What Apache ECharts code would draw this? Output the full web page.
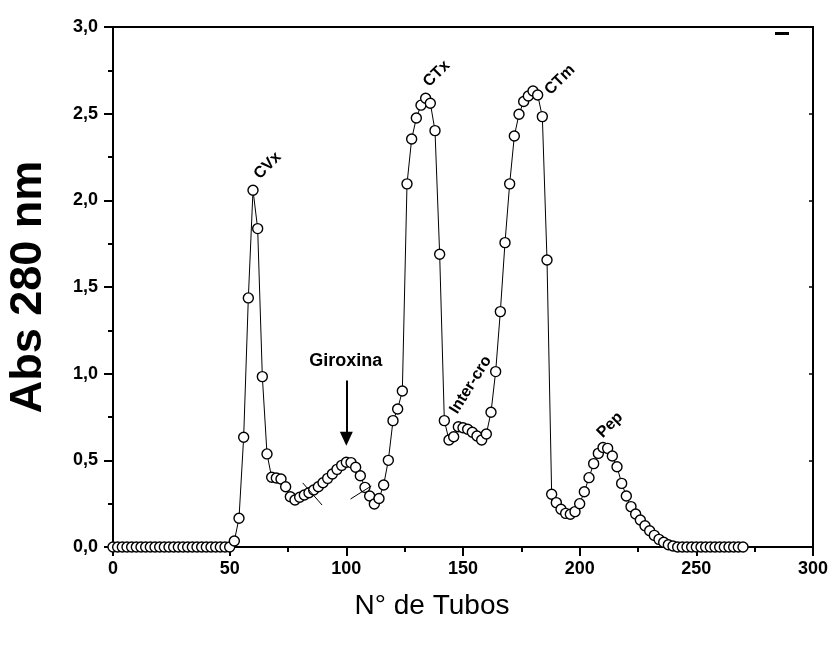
<!DOCTYPE html>
<html>
<head>
<meta charset="utf-8">
<script src="https://cdn.jsdelivr.net/npm/echarts@6/dist/echarts.min.js"></script>
<style>
  html, body { margin: 0; padding: 0; background: #fff; }
  #chart { width: 835px; height: 650px; }
</style>
</head>
<body>
<div id="chart"></div>
<script>
  // tube numbers and absorbance
  const tubes = [0, 2, 4, 6, 8, 10, 12, 14, 16, 18, 20, 22, 24, 26, 28, 30, 32, 34, 36, 38, 40, 42, 44, 46, 48, 50,
    52, 54, 56, 58, 60, 62, 64, 66, 68, 70, 72, 74, 76, 78, 80, 82, 84, 86, 88, 90, 92, 94, 96, 98, 100,
    102, 104, 106, 108, 110, 112, 114, 116, 118, 120, 122, 124, 126, 128, 130, 132, 134, 136, 138, 140,
    142, 144, 146, 148, 150, 152, 154, 156, 158, 160, 162, 164, 166, 168, 170, 172, 174, 176, 178, 180,
    182, 184, 186, 188, 190, 192, 194, 196, 198, 200, 202, 204, 206, 208, 210, 212, 214, 216, 218, 220,
    222, 224, 226, 228, 230, 232, 234, 236, 238, 240, 242, 244, 246, 248, 250, 252, 254, 256, 258, 260,
    262, 264, 266, 268, 270]
  const absorb = [0, 0, 0, 0, 0, 0, 0, 0, 0, 0, 0, 0, 0, 0, 0, 0, 0, 0, 0, 0, 0, 0, 0, 0, 0, 0,
    0.035, 0.166, 0.633, 1.437, 2.058, 1.837, 0.983, 0.537, 0.402, 0.398, 0.392, 0.348, 0.29, 0.271, 0.287,
    0.30, 0.313, 0.329, 0.348, 0.371, 0.396, 0.421, 0.448, 0.471, 0.489,
    0.487, 0.46, 0.411, 0.344, 0.294, 0.248, 0.28, 0.358, 0.50, 0.729, 0.796, 0.90, 2.095, 2.354, 2.475,
    2.549, 2.589, 2.56, 2.402, 1.689,
    0.729, 0.617, 0.636, 0.694, 0.688, 0.679, 0.662, 0.64, 0.617, 0.652, 0.777, 1.012, 1.358, 1.756, 2.095,
    2.371, 2.497, 2.57, 2.602, 2.631,
    2.608, 2.483, 1.656, 0.304, 0.256, 0.218, 0.194, 0.189, 0.204, 0.25, 0.319, 0.40, 0.481, 0.54, 0.574,
    0.569, 0.525, 0.463, 0.367, 0.294,
    0.233, 0.19, 0.156, 0.123, 0.094, 0.067, 0.044, 0.027, 0.013, 0.006, 0, 0, 0, 0, 0, 0, 0, 0, 0, 0,
    0, 0, 0, 0, 0]

  // peak labels (data coords)
  const peakText = ['CVx', 'CTx', 'CTm', 'Pep', 'Inter-cro']
  const peakX = [66.3, 138.7, 191.5, 213, 153.3]
  const peakY = [2.2, 2.73, 2.695, 0.704, 0.935]
  const peakRot = [45, 45, 45, 45, 58]

  const font = 'Arial, "Liberation Sans", sans-serif'
  const chart = echarts.init(document.getElementById('chart'))

  const points = tubes.map((t, i) => [t, absorb[i]])

  chart.setOption({
    animation: false,
    backgroundColor: '#fff',
    grid: {
      left: 113,
      right: 22,
      top: 27,
      bottom: 103,
      outerBoundsMode: 'none',
      show: true,
      borderColor: '#000',
      borderWidth: 2
    },
    xAxis: {
      type: 'value',
      min: 0,
      max: 300,
      interval: 50,
      axisLine: { show: true, lineStyle: { color: '#000', width: 2 } },
      axisTick: { show: true, length: 9, lineStyle: { color: '#000', width: 2 } },
      minorTick: { show: true, splitNumber: 2, length: 5, lineStyle: { color: '#000', width: 2 } },
      splitLine: { show: false },
      axisLabel: { fontFamily: font, fontSize: 18, fontWeight: 'bold', color: '#000', margin: 13 }
    },
    yAxis: [{
      type: 'value',
      min: 0,
      max: 3,
      interval: 0.5,
      name: 'Abs 280 nm',
      nameLocation: 'middle',
      nameGap: 62,
      nameTextStyle: { fontFamily: font, fontSize: 45, fontWeight: 'bold', color: '#000' },
      axisLine: { show: true, lineStyle: { color: '#000', width: 2 } },
      axisTick: { show: true, length: 9, lineStyle: { color: '#000', width: 2 } },
      minorTick: { show: true, splitNumber: 2, length: 5, lineStyle: { color: '#000', width: 2 } },
      splitLine: { show: false },
      axisLabel: {
        fontFamily: font, fontSize: 18, fontWeight: 'bold', color: '#000', margin: 15,
        formatter: v => v.toFixed(1).replace('.', ',')
      }
    }, {
      type: 'value',
      position: 'right',
      min: 0,
      max: 3,
      interval: 0.5,
      axisLine: { show: true, lineStyle: { color: '#000', width: 2 } },
      axisTick: { show: true, inside: true, length: 4, lineStyle: { color: '#000', width: 1.5 } },
      axisLabel: { show: false },
      splitLine: { show: false }
    }],
    series: [{
      type: 'line',
      data: points,
      symbol: 'circle',
      symbolSize: 10,
      showAllSymbol: true,
      lineStyle: { color: '#000', width: 1 },
      itemStyle: { color: '#fff', borderColor: '#000', borderWidth: 1.4 },
      markLine: {
        silent: true,
        symbol: 'none',
        label: { show: false },
        lineStyle: { color: '#000', width: 1, type: 'solid' },
        data: [
          [{ coord: [81.3, 0.37] }, { coord: [89.6, 0.242] }],
          [{ coord: [101.8, 0.277] }, { coord: [110.7, 0.352] }],
          [{ coord: [100, 0.96], symbol: 'none', lineStyle: { width: 2 } },
            { coord: [100, 0.625], symbol: 'triangle', symbolSize: [13, 14], symbolRotate: 180 }]
        ]
      }
    }]
  })

  // annotation texts placed through the axes
  const graphics = []
  peakText.forEach((t, i) => {
    const p = chart.convertToPixel({ gridIndex: 0 }, [peakX[i], peakY[i]])
    graphics.push({
      type: 'text',
      x: p[0],
      y: p[1],
      rotation: peakRot[i] * Math.PI / 180,
      style: {
        text: t,
        fontFamily: font,
        fontSize: 16,
        fontWeight: 'bold',
        fill: '#000',
        align: 'center',
        verticalAlign: 'middle'
      }
    })
  })
  const g = chart.convertToPixel({ gridIndex: 0 }, [99.8, 1.073])
  graphics.push({
    type: 'text',
    x: g[0],
    y: g[1],
    style: {
      text: 'Giroxina',
      fontFamily: font,
      fontSize: 18,
      fontWeight: 'bold',
      fill: '#000',
      align: 'center',
      verticalAlign: 'middle'
    }
  })
  // x axis title, centred as in the original
  graphics.push({
    type: 'text',
    x: 432,
    y: 606,
    style: {
      text: 'N° de Tubos',
      fontFamily: font,
      fontSize: 28,
      fill: '#000',
      align: 'center',
      verticalAlign: 'middle'
    }
  })
  // stray mark in the top right corner of the original
  graphics.push({ type: 'rect', shape: { x: 775, y: 32, width: 14, height: 3 }, style: { fill: '#000' } })

  chart.setOption({ graphic: graphics })
</script>
</body>
</html>
